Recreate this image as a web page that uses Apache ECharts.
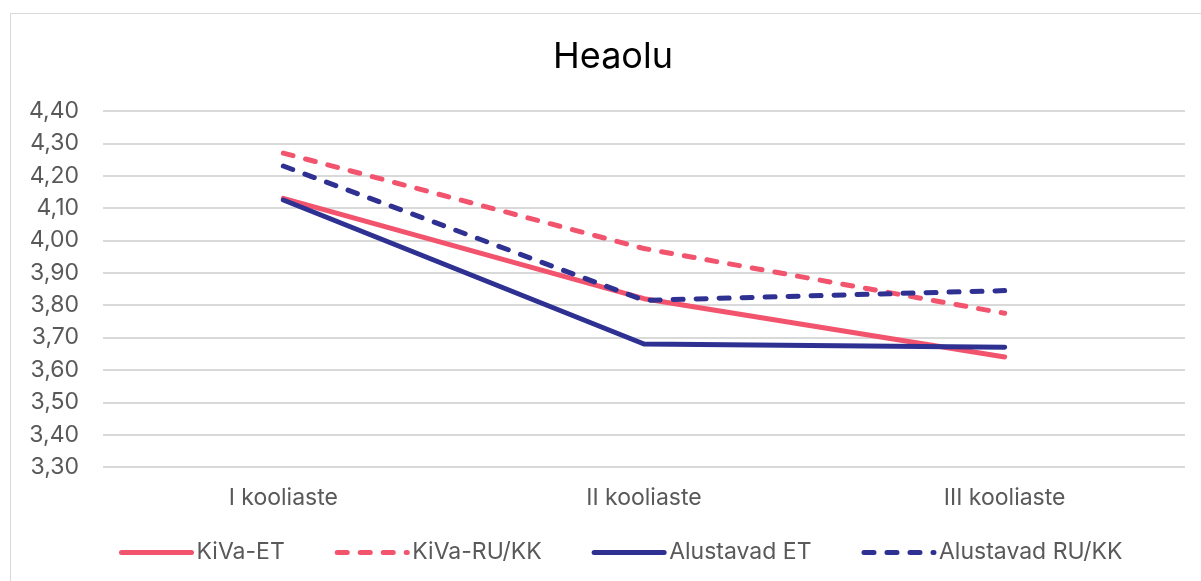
<!DOCTYPE html>
<html>
<head>
<meta charset="utf-8">
<script src="https://cdn.jsdelivr.net/npm/echarts@6/dist/echarts.min.js"></script>
<style>
  html, body { margin: 0; padding: 0; background: #fff; }
  #frame { position: absolute; left: 10px; top: 13px; width: 1200px; height: 580px; border: 1px solid #d9d9d9; box-sizing: border-box; }
  #chart { position: absolute; left: 0; top: 0; width: 1201px; height: 581px; }
</style>
</head>
<body>
<div id="frame"></div>
<div id="chart"></div>
<script>
const categories = ['I kooliaste', 'II kooliaste', 'III kooliaste'];
const kivaET = [4.13, 3.82, 3.64];
const kivaRU = [4.27, 3.975, 3.775];
const alustavadET = [4.125, 3.68, 3.67];
const alustavadRU = [4.23, 3.815, 3.845];
const yTicks = { min: 3.3, max: 4.4, interval: 0.1 };

const pink = '#F2546E';
const navy = '#2E3192';
const font = 'Inter';

function makeSeries(name, data, color, dashed) {
    return {
        name: name,
        type: 'line',
        data: data,
        symbol: 'none',
        lineStyle: {
            color: color,
            width: 5,
            type: dashed ? [10, 13] : 'solid',
            cap: 'round',
            join: 'round'
        },
        itemStyle: { color: color }
    };
}

const chart = echarts.init(document.getElementById('chart'));
chart.setOption({
    animation: false,
    title: {
        text: 'Heaolu',
        left: 608,
        textAlign: 'center',
        top: 34,
        textStyle: { fontFamily: font, fontSize: 36, fontWeight: 'normal', color: '#000' }
    },
    grid: { left: 103, right: 16, top: 111, bottom: 114 },
    legend: {
        bottom: 12,
        left: 114,
        itemWidth: 70,
        itemHeight: 14,
        itemGap: 50,
        lineStyle: { width: 5, cap: 'round' },
        itemStyle: { opacity: 0 },
        textStyle: { fontFamily: font, fontSize: 23, color: '#595959' },
        data: ['KiVa-ET', 'KiVa-RU/KK', 'Alustavad ET', 'Alustavad RU/KK']
    },
    xAxis: {
        type: 'category',
        data: categories,
        boundaryGap: true,
        axisTick: { show: false },
        axisLine: { show: false },
        axisLabel: { fontFamily: font, fontSize: 23, color: '#595959', margin: 20 }
    },
    yAxis: {
        type: 'value',
        min: yTicks.min,
        max: yTicks.max,
        interval: yTicks.interval,
        axisLine: { show: false },
        axisTick: { show: false },
        splitLine: { lineStyle: { color: '#d9d9d9', width: 2 } },
        axisLabel: {
            fontFamily: font, fontSize: 23, color: '#595959', margin: 24,
            formatter: v => v.toFixed(2).replace('.', ',')
        }
    },
    series: [
        makeSeries('KiVa-ET', kivaET, pink, false),
        makeSeries('KiVa-RU/KK', kivaRU, pink, true),
        makeSeries('Alustavad ET', alustavadET, navy, false),
        makeSeries('Alustavad RU/KK', alustavadRU, navy, true)
    ]
});
</script>
</body>
</html>
